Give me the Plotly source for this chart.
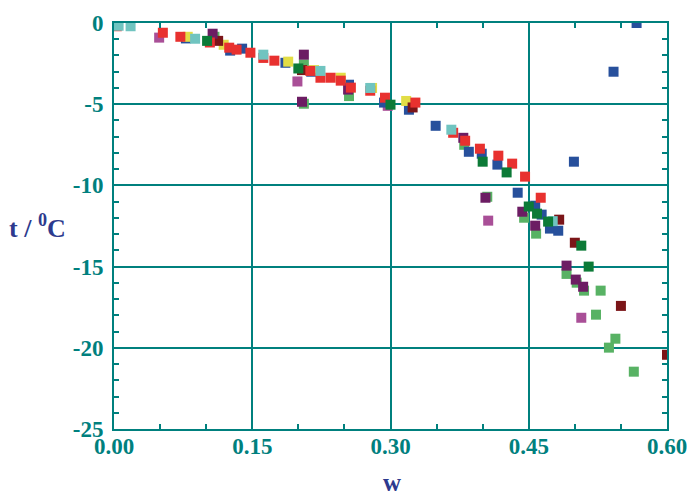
import plotly.graph_objects as go

# ---- data (w, t / °C), one list pair per series ----
light_green_w = [0.109, 0.206, 0.206, 0.255, 0.380, 0.405, 0.445, 0.458, 0.491, 0.502, 0.510, 0.528, 0.523, 0.544, 0.537, 0.564]
light_green_t = [-0.85, -2.55, -4.97, -4.50, -7.50, -10.70, -11.99, -12.97, -15.45, -15.99, -16.48, -16.48, -17.96, -19.44, -19.99, -21.47]

pink_w = [0.049, 0.199, 0.297, 0.406, 0.507]
pink_t = [-0.90, -3.60, -5.10, -12.17, -18.15]

blue_w = [0.078, 0.126, 0.139, 0.186, 0.214, 0.255, 0.293, 0.320, 0.349, 0.385, 0.399, 0.416, 0.438, 0.457, 0.464, 0.473, 0.482, 0.499, 0.542, 0.567]
blue_t = [-0.95, -1.70, -1.58, -2.45, -3.00, -3.80, -4.90, -5.34, -6.33, -7.93, -8.05, -8.72, -10.45, -11.25, -11.80, -12.66, -12.79, -8.54, -3.00, 0.00]

yellow_w = [0.080, 0.119, 0.189, 0.217, 0.246, 0.280, 0.317]
yellow_t = [-0.85, -1.34, -2.38, -2.90, -3.37, -4.00, -4.80]

dark_red_w = [0.113, 0.204, 0.324, 0.483, 0.500, 0.550, 0.600]
dark_red_t = [-1.10, -2.90, -5.20, -12.11, -13.53, -17.42, -20.43]

purple_w = [0.107, 0.206, 0.204, 0.254, 0.379, 0.403, 0.443, 0.457, 0.491, 0.501, 0.509]
purple_t = [-0.66, -1.95, -4.85, -4.10, -7.07, -10.76, -11.62, -12.48, -14.94, -15.80, -16.24]

red_w = [0.003, 0.053, 0.072, 0.104, 0.125, 0.133, 0.148, 0.162, 0.174, 0.213, 0.224, 0.235, 0.246, 0.257, 0.278, 0.294, 0.327, 0.368, 0.381, 0.397, 0.417, 0.432, 0.446, 0.463]
red_t = [-0.20, -0.60, -0.85, -1.20, -1.52, -1.64, -1.83, -2.15, -2.32, -2.95, -3.37, -3.37, -3.55, -3.98, -4.17, -4.60, -4.90, -6.76, -7.25, -7.74, -8.17, -8.66, -9.46, -10.76]

cyan_w = [0.005, 0.018, 0.088, 0.162, 0.224, 0.278, 0.366, 0.476]
cyan_t = [-0.17, -0.20, -0.97, -1.95, -2.95, -4.00, -6.57, -12.20]

dark_green_w = [0.101, 0.200, 0.300, 0.400, 0.426, 0.450, 0.459, 0.471, 0.507, 0.515]
dark_green_t = [-1.10, -2.80, -5.03, -8.54, -9.20, -11.30, -11.74, -12.23, -13.71, -15.00]

x_tick_vals = [0.00, 0.15, 0.30, 0.45, 0.60]
x_tick_text = ["0.00", "0.15", "0.30", "0.45", "0.60"]
y_tick_vals = [-25, -20, -15, -10, -5, 0]
y_tick_text = ["-25", "-20", "-15", "-10", "-5", "0"]

series = [
    (light_green_w, light_green_t, "#58B264"),
    (pink_w, pink_t, "#A94F97"),
    (blue_w, blue_t, "#27509C"),
    (yellow_w, yellow_t, "#E2DD46"),
    (dark_red_w, dark_red_t, "#7B1518"),
    (purple_w, purple_t, "#6C1D63"),
    (red_w, red_t, "#E8312F"),
    (cyan_w, cyan_t, "#70C4C0"),
    (dark_green_w, dark_green_t, "#0C7A37"),
]

TEAL = "#00807E"
TITLE_BLUE = "#2D3A8E"
FONT = "Liberation Serif"

fig = go.Figure()
for w, t, c in series:
    fig.add_trace(go.Scatter(
        x=w, y=t, mode="markers",
        marker=dict(symbol="square", size=10, color=c, line=dict(width=0)),
        showlegend=False,
    ))

axis_common = dict(
    showline=True, linecolor=TEAL, linewidth=2, mirror="ticks",
    showgrid=True, gridcolor=TEAL, gridwidth=1.5,
    zeroline=False, automargin=False,
    ticks="inside", ticklen=8, tickwidth=2, tickcolor=TEAL,
    tickfont=dict(family=FONT, size=23, color=TEAL, weight="bold"),
    tickmode="array",
)

fig.update_xaxes(
    **axis_common,
    range=[0, 0.60],
    tickvals=x_tick_vals, ticktext=x_tick_text,
    minor=dict(dtick=0.05, ticks="inside", ticklen=5, tickwidth=2, tickcolor=TEAL, showgrid=False),
    ticklabelstandoff=-5,
)
fig.update_yaxes(
    **axis_common,
    range=[-25, 0],
    tickvals=y_tick_vals, ticktext=y_tick_text,
    minor=dict(dtick=1, ticks="inside", ticklen=5, tickwidth=2, tickcolor=TEAL, showgrid=False),
    ticklabelstandoff=4,
)

fig.add_annotation(
    text="t / <sup>0</sup>C", xref="paper", yref="paper",
    x=-0.139, y=0.5, xanchor="center", yanchor="middle", showarrow=False,
    font=dict(family=FONT, size=26, color=TITLE_BLUE, weight="bold"),
)
fig.add_annotation(
    text="w", xref="paper", yref="paper",
    x=0.503, y=-0.132, xanchor="center", yanchor="middle", showarrow=False,
    font=dict(family=FONT, size=25, color=TITLE_BLUE, weight="bold"),
)

fig.update_layout(
    width=691, height=495,
    margin=dict(l=114, r=24, t=23, b=66),
    paper_bgcolor="white", plot_bgcolor="white",
)

fig.write_html("out.html")
